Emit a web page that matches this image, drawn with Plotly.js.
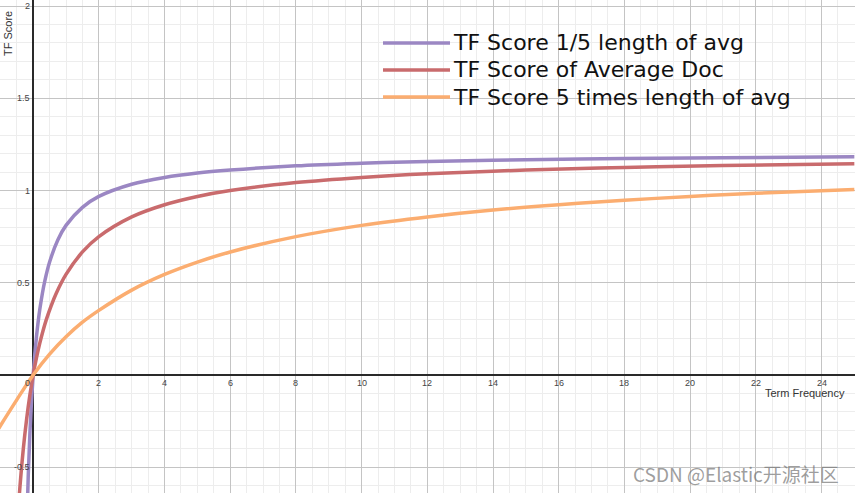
<!DOCTYPE html>
<html>
<head>
<meta charset="utf-8">
<script src="https://cdn.plot.ly/plotly-3.0.1.min.js"></script>
<style>html,body{margin:0;padding:0;background:#fff;}#chart{width:855px;height:493px;}</style>
</head>
<body>
<div id="chart"></div>
<script>
// Values
const seriesNames = ["TF Score 1/5 length of avg", "TF Score of Average Doc", "TF Score 5 times length of avg"];

const shortX = [-0.2, -0.15, -0.1, -0.05, 0, 0.05, 0.1, 0.15, 0.2, 0.28, 0.35, 0.5, 0.75, 1, 1.5, 2, 3, 4, 5, 6, 8, 10, 12, 15, 18, 21, 25];
const shortY = [-0.857, -0.545, -0.316, -0.140, 0, 0.113, 0.207, 0.286, 0.353, 0.442, 0.506, 0.612, 0.732, 0.811, 0.909, 0.968, 1.034, 1.071, 1.095, 1.111, 1.134, 1.148, 1.158, 1.167, 1.174, 1.178, 1.183];

const avgX = [-0.5, -0.4, -0.3, -0.2, -0.1, 0, 0.1, 0.2, 0.3, 0.4, 0.55, 0.7, 1, 1.5, 2, 3, 4, 5, 6, 8, 10, 12, 15, 18, 21, 25];
const avgY = [-0.857, -0.6, -0.4, -0.24, -0.109, 0, 0.092, 0.171, 0.24, 0.3, 0.376, 0.442, 0.545, 0.667, 0.75, 0.857, 0.923, 0.968, 1.0, 1.043, 1.071, 1.091, 1.111, 1.125, 1.135, 1.145];

const longX = [-1.05, -0.5, 0, 0.5, 1, 1.5, 2, 3, 4, 5, 6, 8, 10, 12, 14, 16, 18, 20, 22, 25];
const longY = [-0.29, -0.135, 0, 0.113, 0.207, 0.286, 0.35, 0.46, 0.545, 0.612, 0.667, 0.75, 0.811, 0.857, 0.894, 0.923, 0.947, 0.968, 0.985, 1.005];

const xTickVals = [2, 4, 6, 8, 10, 12, 14, 16, 18, 20, 22, 24];
const yTickVals = [-0.5, 0.5, 1, 1.5, 2];

const colors = ["#9b87c3", "#c96b6d", "#fbad70"];

const traces = [
  {x: shortX, y: shortY, name: seriesNames[0]},
  {x: avgX, y: avgY, name: seriesNames[1]},
  {x: longX, y: longY, name: seriesNames[2]}
].map((t, i) => Object.assign(t, {
  type: "scatter", mode: "lines",
  line: {color: colors[i], width: 3.5, shape: "spline", smoothing: 1.0},
  cliponaxis: true, showlegend: false
}));

const W = 855, H = 493;
const tickFont = {family: "Liberation Sans, Arial, sans-serif", size: 9, color: "#444"};
const labelFont = {family: "Liberation Sans, Arial, sans-serif", size: 11, color: "#333"};
const annotations = [];
const shapes = [];
xTickVals.forEach(v => annotations.push({
  x: v, y: 0, xref: "x", yref: "y", text: String(v), showarrow: false,
  xanchor: "center", yanchor: "top", yshift: -1, font: tickFont
}));
yTickVals.forEach(v => annotations.push({
  x: 0, y: v, xref: "x", yref: "y", text: String(v), showarrow: false,
  xanchor: "right", yanchor: "middle", xshift: -1, font: tickFont
}));
annotations.push({x: 0, y: 0, xref: "x", yref: "y", text: "0", showarrow: false,
  xanchor: "right", yanchor: "top", xshift: -1, yshift: -1, font: tickFont});
annotations.push({x: 8 / W, y: 1 - 34 / H, xref: "paper", yref: "paper", text: "TF Score",
  showarrow: false, textangle: -90, xanchor: "center", yanchor: "middle", font: labelFont});
annotations.push({x: 847 / W, y: 1 - 393 / H, xref: "paper", yref: "paper", text: "Term Frequency",
  showarrow: false, xanchor: "right", yanchor: "middle", font: labelFont});
annotations.push({x: 841 / W, y: 1 - 473 / H, xref: "paper", yref: "paper", text: "CSDN @Elastic开源社区",
  showarrow: false, xanchor: "right", yanchor: "middle",
  font: {family: "Noto Sans CJK SC, sans-serif", size: 19, color: "rgba(115,115,115,0.7)"}});

// Legend (top right), one row per series
const legendRowsY = [43, 70, 97];
seriesNames.forEach((name, i) => {
  const yp = 1 - legendRowsY[i] / H;
  shapes.push({type: "line", xref: "paper", yref: "paper", x0: 383 / W, x1: 450 / W, y0: yp, y1: yp,
    line: {color: colors[i], width: 3.5}});
  annotations.push({x: 451 / W, y: yp, xref: "paper", yref: "paper", text: name, showarrow: false,
    xanchor: "left", yanchor: "middle",
    font: {family: "DejaVu Sans, sans-serif", size: 22, color: "#111"}});
});

const layout = {
  width: W, height: H,
  margin: {l: 0, r: 0, t: 0, b: 0},
  paper_bgcolor: "#fff", plot_bgcolor: "#fff",
  showlegend: false,
  xaxis: {
    range: [-1.01, 25.02], showticklabels: false, ticks: "",
    dtick: 2, tick0: 0, gridcolor: "#c4c4c4", gridwidth: 1,
    minor: {dtick: 0.5, tick0: 0, showgrid: true, gridcolor: "#ededed", gridwidth: 1},
    zeroline: true, zerolinecolor: "#2a2a2a", zerolinewidth: 2,
    showline: false, fixedrange: true
  },
  yaxis: {
    range: [-0.64, 2.033], showticklabels: false, ticks: "",
    dtick: 0.5, tick0: 0, gridcolor: "#c4c4c4", gridwidth: 1,
    minor: {dtick: 0.1, tick0: 0, showgrid: true, gridcolor: "#ededed", gridwidth: 1},
    zeroline: true, zerolinecolor: "#2a2a2a", zerolinewidth: 2,
    showline: false, fixedrange: true
  },
  shapes: shapes,
  annotations: annotations
};

Plotly.newPlot("chart", traces, layout, {displayModeBar: false, staticPlot: true});
</script>
</body>
</html>
